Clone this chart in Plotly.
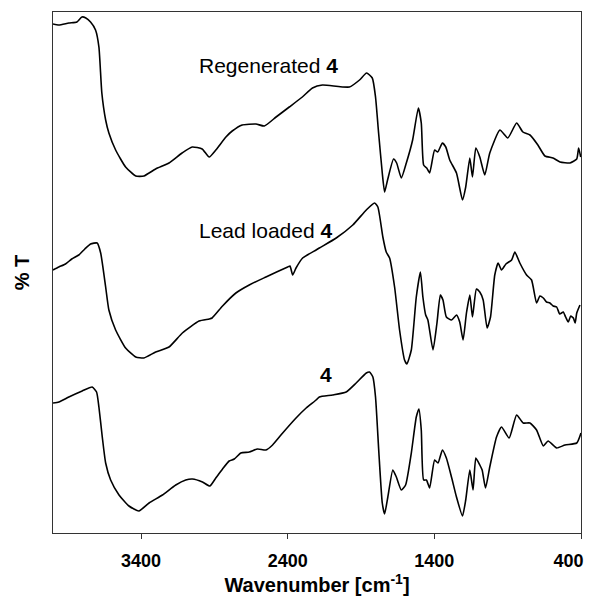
import plotly.graph_objects as go

# Wavenumber (cm-1) and transmittance (arbitrary offset units)
regen_wn = [4000, 3960, 3892, 3837, 3803, 3776, 3744, 3710, 3687, 3667, 3641, 3619, 3573, 3505, 3436, 3380,
            3300, 3209, 3120, 3051, 2983, 2935, 2890, 2821, 2778, 2710, 2616, 2559, 2479, 2389, 2300, 2231,
            2163, 1979, 1910, 1862, 1823, 1801, 1780, 1755, 1739, 1719, 1678, 1657, 1625, 1591, 1548, 1509,
            1489, 1473, 1452, 1432, 1398, 1377, 1345, 1322, 1295, 1249, 1208, 1186, 1158, 1140, 1117, 1090,
            1056, 1022, 953, 899, 839, 796, 748, 694, 646, 591, 543, 475, 429, 416, 402]
regen_t = [509, 508, 510, 511, 516, 515, 511, 503, 486, 440, 413, 400, 383, 366, 357, 357,
           364, 370, 380, 386, 384, 376, 383, 396, 402, 408, 409, 407, 416, 426, 436, 445,
           448, 446, 453, 460, 455, 436, 400, 360, 341, 353, 374, 370, 355, 370, 393, 425,
           410, 368, 365, 360, 383, 381, 390, 386, 373, 360, 333, 346, 375, 356, 385, 376,
           358, 380, 403, 395, 410, 401, 398, 388, 377, 375, 371, 370, 374, 385, 376]

lead_wn = [4000, 3960, 3915, 3872, 3824, 3783, 3744, 3699, 3675, 3641, 3619, 3573, 3505, 3436, 3380, 3300,
           3209, 3118, 3004, 2935, 2915, 2844, 2753, 2662, 2548, 2400, 2384, 2366, 2343, 2298, 2206, 2184,
           2069, 1956, 1864, 1808, 1785, 1751, 1728, 1705, 1671, 1637, 1603, 1587, 1557, 1523, 1495, 1478,
           1459, 1444, 1409, 1382, 1359, 1341, 1318, 1283, 1249, 1227, 1204, 1181, 1158, 1140, 1113, 1090,
           1067, 1040, 1017, 988, 965, 942, 912, 873, 851, 817, 771, 737, 703, 680, 657, 635, 612, 590,
           566, 545, 521, 505, 487, 470, 452, 440, 429, 407]
lead_t = [263, 266, 269, 274, 278, 284, 289, 290, 280, 246, 223, 203, 185, 176, 175, 181,
          186, 200, 212, 214, 215, 227, 240, 248, 256, 266, 267, 258, 265, 275, 283, 285,
          295, 308, 323, 330, 326, 296, 281, 275, 246, 203, 173, 169, 183, 236, 261, 236,
          218, 213, 183, 210, 238, 233, 216, 213, 218, 211, 193, 220, 238, 216, 244, 241,
          233, 205, 216, 258, 270, 263, 269, 273, 281, 270, 258, 253, 230, 237, 235, 231, 230, 227,
          226, 219, 221, 216, 211, 217, 215, 210, 220, 228]

base_wn = [4000, 3960, 3892, 3801, 3733, 3703, 3687, 3664, 3641, 3607, 3550, 3482, 3414, 3345, 3254, 3163,
           3095, 3049, 2981, 2931, 2890, 2844, 2799, 2764, 2719, 2662, 2605, 2548, 2503, 2434, 2343, 2274,
           2206, 2184, 2093, 2001, 1933, 1864, 1842, 1819, 1801, 1778, 1755, 1739, 1717, 1683, 1659, 1625,
           1596, 1557, 1523, 1505, 1489, 1473, 1454, 1432, 1398, 1375, 1345, 1318, 1283, 1249, 1208, 1186,
           1158, 1136, 1117, 1090, 1074, 1051, 1022, 976, 942, 890, 839, 794, 748, 703, 657, 624, 566, 509,
           429, 400]
base_t = [130, 131, 136, 142, 146, 141, 126, 96, 70, 53, 38, 27, 22, 30, 38, 48,
          53, 54, 51, 47, 55, 64, 72, 74, 80, 81, 84, 83, 88, 100, 115, 125,
          133, 136, 138, 141, 150, 160, 161, 156, 136, 80, 30, 19, 36, 63, 56, 43,
          48, 80, 116, 124, 103, 53, 53, 45, 73, 70, 83, 75, 56, 36, 17, 33,
          63, 43, 75, 68, 63, 45, 66, 96, 106, 95, 118, 110, 110, 103, 87, 92, 85, 88,
          90, 100]

x_ticks = [3400, 2400, 1400, 400]
x_tick_labels = ["3400", "2400", "1400", "400"]

FONT = "Liberation Sans, Arial, sans-serif"
line = dict(color="black", width=1.6, shape="spline", smoothing=0.5)

fig = go.Figure()
for wn, t, name in [(regen_wn, regen_t, "Regenerated 4"), (lead_wn, lead_t, "Lead loaded 4"), (base_wn, base_t, "4")]:
    fig.add_trace(go.Scatter(x=wn, y=t, mode="lines", line=line, name=name, showlegend=False))

ann_font = dict(family=FONT, size=21, color="black")
fig.add_annotation(x=2532, y=468, text="Regenerated <b>4</b>", showarrow=False, font=ann_font)
fig.add_annotation(x=2553, y=303, text="Lead loaded <b>4</b>", showarrow=False, font=ann_font)
fig.add_annotation(x=2136, y=159, text="<b>4</b>", showarrow=False, font=ann_font)

ticktext = [f"<b>{t}</b>" for t in x_tick_labels]
ticktext[-1] = ticktext[-1] + "&nbsp;" * 5  # last label sits left of the frame corner, as in the reference

fig.update_layout(
    width=589, height=598,
    margin=dict(l=53, r=8, t=12, b=65, autoexpand=False),
    paper_bgcolor="white", plot_bgcolor="white",
    font=dict(family=FONT, color="black"),
    xaxis=dict(range=[4000, 400], tickvals=x_ticks, ticktext=ticktext, automargin=False,
               tickfont=dict(size=18, family=FONT, color="black"),
               ticks="outside", ticklen=5, tickcolor="#333", ticklabelstandoff=6,
               ticklabeloverflow="allow",
               showline=True, linecolor="#333", linewidth=1.3, mirror=True,
               showgrid=False, zeroline=False,
               title=dict(text="<b>Wavenumber [cm<sup>-1</sup>]</b>", font=dict(size=20, family=FONT), standoff=8)),
    yaxis=dict(range=[0, 521], showticklabels=False, ticks="", automargin=False,
               showline=True, linecolor="#333", linewidth=1.3, mirror=True,
               showgrid=False, zeroline=False,
               title=dict(text="<b>% T</b>", font=dict(size=20, family=FONT), standoff=16)),
)

fig.write_html("out.html")
